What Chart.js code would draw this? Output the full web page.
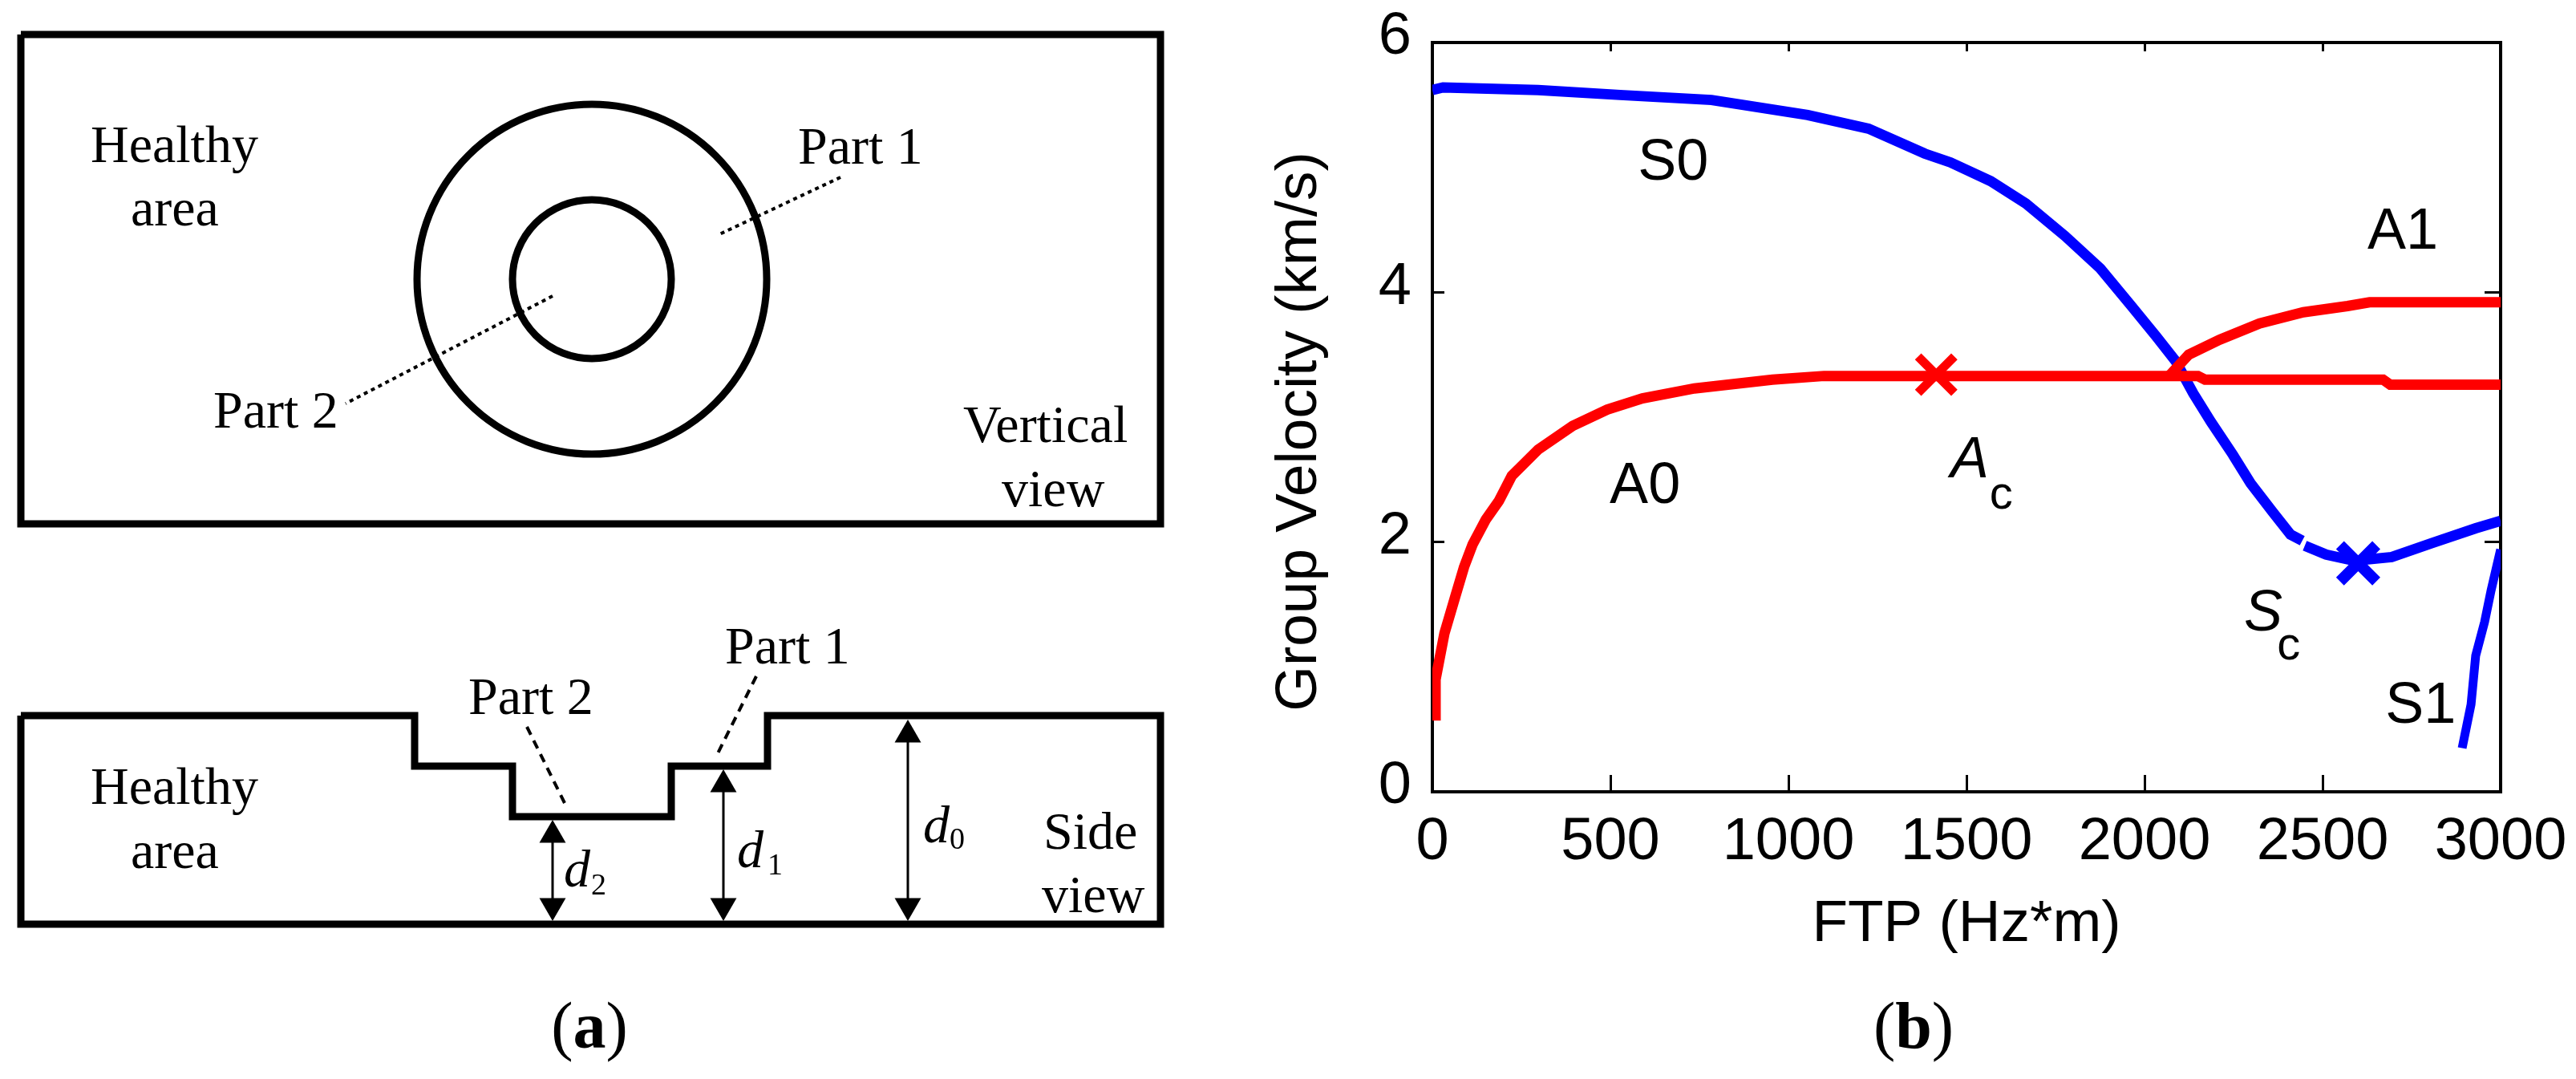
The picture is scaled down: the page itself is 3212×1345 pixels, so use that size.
<!DOCTYPE html>
<html>
<head>
<meta charset="utf-8">
<title>Group velocity</title>
<script src="https://cdn.jsdelivr.net/npm/chart.js@4"></script>
<style>
    html, body { margin: 0; padding: 0; background: #fff; }
    #page { position: relative; width: 3212px; height: 1345px; overflow: hidden; }
    canvas { position: absolute; top: 0; }
    #sketchChart { left: 0; }
    #velocityChart { left: 1560px; }
    .caption { position: absolute; top: 1232px; font: 82px "Liberation Serif", serif; color: #000; transform: translateX(-50%); }
</style>
</head>
<body>
<div id="page">
    <canvas id="sketchChart" width="1540" height="1345"></canvas>
    <canvas id="velocityChart" width="1652" height="1345"></canvas>
    <div class="caption" style="left: 735px">(<b>a</b>)</div>
    <div class="caption" style="left: 2386px">(<b>b</b>)</div>
</div>
<script>
// --- panel (b): group velocity curves ---
const s0Ftp = [0, 30, 297, 527, 784, 1054, 1225, 1383, 1455, 1568, 1667, 1777, 1876, 1963, 2032, 2087, 2137, 2187, 2248, 2298, 2360, 2410, 2443, 2443, 2450, 2510, 2589, 2694, 2806, 2930, 3000];
const s0Velocity = [5.62, 5.64, 5.62, 5.58, 5.54, 5.42, 5.31, 5.11, 5.04, 4.89, 4.71, 4.45, 4.19, 3.89, 3.65, 3.45, 3.19, 2.96, 2.70, 2.47, 2.24, 2.06, 2.01, null, 1.97, 1.90, 1.85, 1.88, 1.99, 2.11, 2.17];
const s1Ftp = [2892, 2917, 2930, 2955, 2973, 3000];
const s1Velocity = [0.35, 0.70, 1.09, 1.36, 1.61, 1.94];
const a0Ftp = [9, 9, 34, 65, 89, 113, 150, 187, 223, 297, 394, 491, 590, 736, 955, 1100, 2150, 2170, 2670, 2690, 3000];
const a0Velocity = [0.57, 0.90, 1.27, 1.57, 1.80, 1.98, 2.18, 2.33, 2.53, 2.74, 2.93, 3.06, 3.15, 3.23, 3.30, 3.33, 3.33, 3.30, 3.30, 3.26, 3.26];
const a1Ftp = [2069, 2124, 2211, 2323, 2446, 2570, 2632, 3000];
const a1Velocity = [3.33, 3.50, 3.62, 3.75, 3.84, 3.89, 3.92, 3.92];
const cutoffFtp = [1415, 2600];
const cutoffVelocity = [3.34, 1.83];

const ftpTicks = { min: 0, max: 3000, step: 500 };
const velocityTicks = { min: 0, max: 6, step: 2 };

const curveLabels = ['S0', 'A0', 'A1', 'S1'];
const curveLabelFtp = [577, 498, 2626, 2676];
const curveLabelVelocity = [4.90, 2.31, 4.35, 0.55];
const cutoffLabels = ['A', 'S'];
const cutoffLabelFtp = [1455, 2279];
const cutoffLabelVelocity = [2.52, 1.29];
const cutoffSubFtp = [1565, 2372];
const cutoffSubVelocity = [2.27, 1.06];

// --- panel (a): sketch, in drawing units ---
const boxX = [26, 1447, 1447, 26, 26];
const boxY = [43, 43, 653, 653, 43];
const circleX = [738, 738];
const circleY = [348, 348];
const circleRadius = [218, 99];
const part1DotsX = [1048, 895];
const part1DotsY = [221, 293];
const part2DotsX = [689, 431];
const part2DotsY = [369, 503];
const sideX = [26, 517, 517, 639, 639, 837, 837, 957, 957, 1447, 1447, 26, 26];
const sideY = [892, 892, 955, 955, 1018, 1018, 955, 955, 892, 892, 1152, 1152, 892];
const part1DashX = [943, 895];
const part1DashY = [843, 939];
const part2DashX = [657, 705];
const part2DashY = [906, 1003];
const arrowX = [689, 902, 1132];
const arrowTop = [1022, 959, 897];
const arrowBottom = [1148, 1148, 1148];

const sketchTexts = ['Healthy', 'area', 'Part 1', 'Part 2', 'Vertical', 'view', 'Part 1', 'Part 2', 'Healthy', 'area', 'Side', 'view'];
const sketchTextX = [113, 163, 995, 266, 1201, 1249, 904, 584, 113, 163, 1301, 1299];
const sketchTextY = [202, 281, 204, 533, 551, 631, 827, 890, 1002, 1082, 1058, 1137];
const depthTexts = ['d', 'd', 'd'];
const depthX = [703, 919, 1151];
const depthY = [1105, 1081, 1050];
const depthSubs = ['2', '1', '0'];
const depthSubX = [737, 957, 1184];
const depthSubY = [1115, 1090, 1058];

const toPoints = (xs, ys) => xs.map((x, i) => ({ x: x, y: ys[i] }));

// text inside a chart, placed through its scales
function textItems(texts, xs, ys, font) {
    return texts.map((text, i) => ({ text: text, x: xs[i], y: ys[i], font: font }));
}
const textLayer = {
    id: 'textLayer',
    afterDraw(chart, args, opts) {
        const ctx = chart.ctx;
        ctx.save();
        ctx.fillStyle = '#000';
        ctx.textBaseline = 'alphabetic';
        ctx.textAlign = 'left';
        opts.items.forEach(item => {
            ctx.font = item.font;
            ctx.fillText(item.text, chart.scales.x.getPixelForValue(item.x), chart.scales.y.getPixelForValue(item.y));
        });
        if (opts.yTitle) {
            // Chart.js can only center this title on the axis, the original sits lower
            ctx.translate(opts.yTitle.x, opts.yTitle.y);
            ctx.rotate(-Math.PI / 2);
            ctx.textAlign = 'center';
            ctx.font = opts.yTitle.font;
            ctx.fillText(opts.yTitle.text, 0, 0);
        }
        ctx.restore();
    }
};

function outline(xs, ys, width, dash) {
    return {
        data: toPoints(xs, ys),
        showLine: true,
        borderColor: '#000',
        borderWidth: width,
        borderDash: dash || [],
        pointRadius: 0,
        tension: 0
    };
}
function arrowHeads(xs, ys, rotation) {
    return {
        data: toPoints(xs, ys),
        showLine: false,
        pointStyle: 'triangle',
        pointRadius: 19,
        pointRotation: rotation,
        pointBackgroundColor: '#000',
        pointBorderColor: '#000',
        pointBorderWidth: 0
    };
}

const sketchSets = [
    outline(boxX, boxY, 9),
    outline(part1DotsX, part1DotsY, 4, [5, 5]),
    outline(part2DotsX, part2DotsY, 4, [5, 5]),
    outline(sideX, sideY, 9),
    outline(part1DashX, part1DashY, 4, [11, 8]),
    outline(part2DashX, part2DashY, 4, [11, 8]),
    {
        data: toPoints(circleX, circleY),
        showLine: false,
        pointStyle: 'circle',
        pointRadius: circleRadius,
        pointBackgroundColor: 'rgba(0,0,0,0)',
        pointBorderColor: '#000',
        pointBorderWidth: 9
    },
    arrowHeads(arrowX, arrowTop.map(y => y + 19), 0),
    arrowHeads(arrowX, arrowBottom.map(y => y - 19), 180)
];
arrowX.forEach((x, i) => sketchSets.push(outline([x, x], [arrowTop[i] + 10, arrowBottom[i] - 10], 3)));

new Chart(document.getElementById('sketchChart'), {
    type: 'scatter',
    data: { datasets: sketchSets },
    plugins: [textLayer],
    options: {
        responsive: false,
        animation: false,
        events: [],
        layout: { padding: 0, autoPadding: false },
        scales: {
            x: { display: false, min: 0, max: 1540 },
            y: { display: false, min: 0, max: 1345, reverse: true }
        },
        plugins: {
            legend: { display: false },
            tooltip: { enabled: false },
            textLayer: {
                items: textItems(sketchTexts, sketchTextX, sketchTextY, '66px "Liberation Serif"')
                    .concat(textItems(depthTexts, depthX, depthY, 'italic 66px "Liberation Serif"'))
                    .concat(textItems(depthSubs, depthSubX, depthSubY, '38px "Liberation Serif"'))
            }
        }
    }
});

function curve(xs, ys, color, width) {
    return {
        data: toPoints(xs, ys),
        showLine: true,
        borderColor: color,
        borderWidth: width,
        pointRadius: 0,
        tension: 0,
        spanGaps: false,
        xAxisID: 'x',
        yAxisID: 'y'
    };
}
function cutoffMark(i, color, width) {
    return {
        data: [{ x: cutoffFtp[i], y: cutoffVelocity[i] }],
        showLine: false,
        pointStyle: 'crossRot',
        pointRadius: 32,
        pointBorderColor: color,
        pointBorderWidth: width,
        xAxisID: 'x',
        yAxisID: 'y'
    };
}

function axisStyle(tickLength) {
    return {
        grid: { drawOnChartArea: false, tickLength: tickLength, color: '#000', lineWidth: 3 },
        border: { color: '#000', width: 4 }
    };
}
// the plot box is fixed, so labels must not push it in
function fixBox(scale, width, height) {
    if (width !== null) scale.width = width;
    if (height !== null) scale.height = height;
    scale.paddingLeft = scale.paddingRight = scale.paddingTop = scale.paddingBottom = 0;
}
const tickFont = { family: '"Liberation Sans"', size: 74 };
const plainNumber = value => String(value);

new Chart(document.getElementById('velocityChart'), {
    type: 'scatter',
    data: {
        datasets: [
            cutoffMark(0, '#ff0000', 11),
            curve(a1Ftp, a1Velocity, '#ff0000', 13),
            curve(a0Ftp, a0Velocity, '#ff0000', 13),
            cutoffMark(1, '#0000ff', 14),
            curve(s0Ftp, s0Velocity, '#0000ff', 13),
            curve(s1Ftp, s1Velocity, '#0000ff', 11)
        ]
    },
    plugins: [textLayer],
    options: {
        responsive: false,
        animation: false,
        events: [],
        layout: { padding: { top: 53, right: 94, bottom: 0, left: 0 }, autoPadding: false },
        scales: {
            x: {
                type: 'linear', position: 'bottom', min: ftpTicks.min, max: ftpTicks.max,
                ...axisStyle(-21),
                ticks: { stepSize: ftpTicks.step, font: tickFont, color: '#000', padding: 40, maxRotation: 0, autoSkip: false, callback: plainNumber },
                title: { display: true, text: 'FTP (Hz*m)', color: '#000', font: { family: '"Liberation Sans"', size: 73 }, padding: { top: 0, bottom: 148 } },
                afterFit: scale => fixBox(scale, null, 358)
            },
            y: {
                type: 'linear', position: 'left', min: velocityTicks.min, max: velocityTicks.max,
                ...axisStyle(-15),
                ticks: { stepSize: velocityTicks.step, font: tickFont, color: '#000', padding: 41, labelOffset: -6, autoSkip: false },
                afterFit: scale => fixBox(scale, 226, null)
            },
            xTop: {
                type: 'linear', position: 'top', min: ftpTicks.min, max: ftpTicks.max,
                ...axisStyle(-11),
                ticks: { stepSize: ftpTicks.step, display: false },
                afterFit: scale => fixBox(scale, null, 0)
            },
            yRight: {
                type: 'linear', position: 'right', min: velocityTicks.min, max: velocityTicks.max,
                ...axisStyle(-20),
                ticks: { stepSize: velocityTicks.step, display: false },
                afterFit: scale => fixBox(scale, 0, null)
            }
        },
        plugins: {
            legend: { display: false },
            tooltip: { enabled: false },
            textLayer: {
                items: textItems(curveLabels, curveLabelFtp, curveLabelVelocity, '72px "Liberation Sans"')
                    .concat(textItems(cutoffLabels, cutoffLabelFtp, cutoffLabelVelocity, 'italic 72px "Liberation Sans"'))
                    .concat(textItems(['c', 'c'], cutoffSubFtp, cutoffSubVelocity, '58px "Liberation Sans"')),
                yTitle: { text: 'Group Velocity (km/s)', x: 81, y: 538, font: '73px "Liberation Sans"' }
            }
        }
    }
});
</script>
</body>
</html>
